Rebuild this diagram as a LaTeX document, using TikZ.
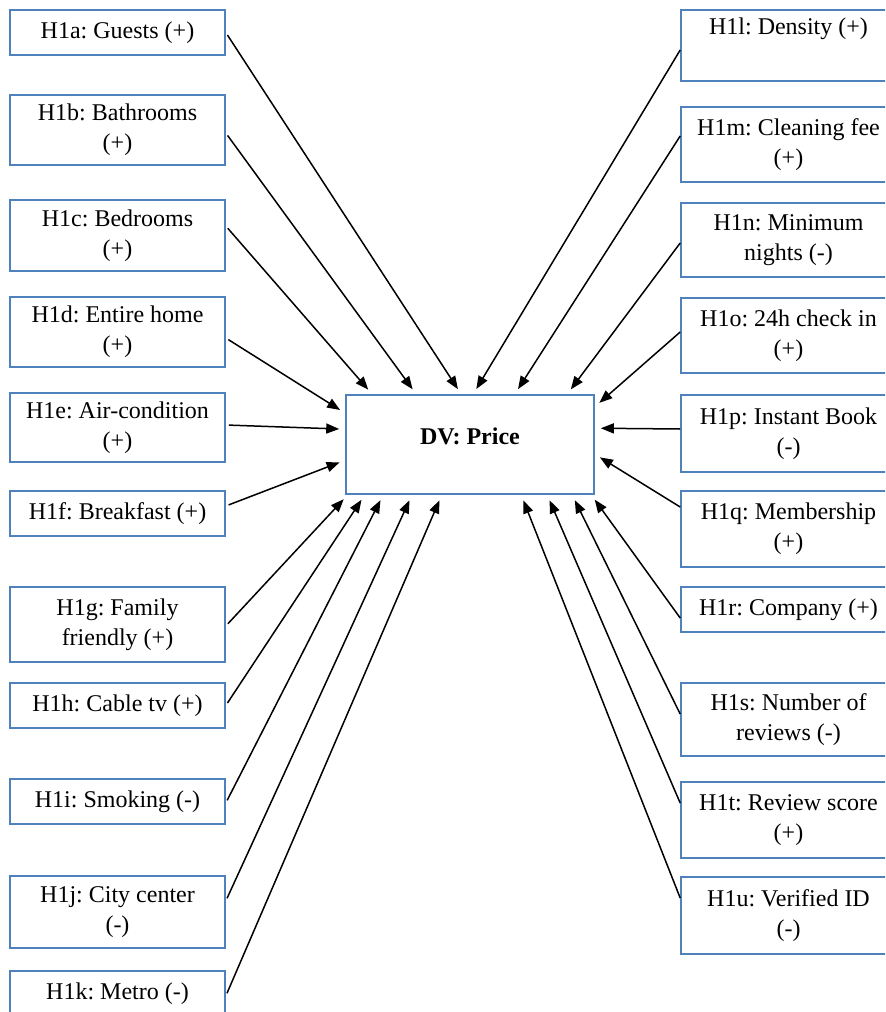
\documentclass[tikz,border=0pt]{standalone}
\usepackage{fontspec}
\setmainfont{Liberation Serif}
\usepackage{xcolor}
\usepackage{tikz}
\usetikzlibrary{arrows.meta}
\definecolor{boxc}{HTML}{4F81BD}
\frenchspacing
\tikzset{
  ar/.style={-{Triangle[length=6.5pt,width=5pt]},line width=0.75pt,black,shorten >=3pt},
  hyp/.style={draw=boxc,line width=0.8pt,minimum width=107.5pt,align=center,inner sep=2pt,font=\fontsize{12}{15}\selectfont},
  dvbox/.style={draw=boxc,line width=0.8pt,minimum width=124pt,minimum height=49.5pt,text depth=8.5pt,font=\fontsize{12}{15}\selectfont\bfseries}
}
\begin{document}
\begin{tikzpicture}[x=0.5pt,y=-0.5pt]
\clip (0,0) rectangle (885,1012);
\fill[white] (0,0) rectangle (885,1012);
\node[dvbox] (dv) at (470,444.5) {DV: Price};
\foreach \n/\y/\h/\t in {a/32.5/45/{H1a: Guests (+)}, b/130/70/{H1b: Bathrooms\\(+)}, c/235.5/71/{H1c: Bedrooms\\(+)}, d/332/70/{H1d: Entire home\\(+)}, e/427.5/69/{H1e: Air-condition\\(+)}, f/513.5/45/{H1f: Breakfast (+)}, g/624.5/75/{H1g: Family\\friendly (+)}, h/705.5/45/{H1h: Cable tv (+)}, i/801.5/45/{H1i: Smoking (-)}, j/912/72/{H1j: City center\\(-)}, k/993.5/45/{H1k: Metro (-)}}{\node[hyp,minimum height=\h*0.5pt] (\n) at (117.5,\y) {\t};}
\foreach \n/\y/\h/\t in {l/45.5/71/{H1l: Density (+)\\\strut}, m/144.5/75/{H1m: Cleaning fee\\(+)}, n/240/74/{H1n: Minimum\\nights (-)}, o/335.5/75/{H1o: 24h check in\\(+)}, p/433.5/77/{H1p: Instant Book\\(-)}, q/529/76/{H1q: Membership\\(+)}, r/609.5/45/{H1r: Company (+)}, s/719.5/73/{H1s: Number of\\reviews (-)}, t/820/76/{H1t: Review score\\(+)}, u/915.5/77/{H1u: Verified ID\\(-)}}{\node[hyp,minimum height=\h*0.5pt] (\n) at (788.5,\y) {\t};}
\foreach \s/\sy/\an/\tx/\ty in {a/0/north west/58/0, b/-1.5/north west/35.5/0, c/4.75/north west/13.5/0, d/-3/north west/0/-9.5, e/1.25/north west/0/-17.5, f/3.75/north west/0/-33, g/-0.75/south west/1.3/0, h/0/south west/9.8/0, i/-0.75/south west/19/0, j/5.5/south west/33.4/0, k/-1.25/south west/48.3/0}{\draw[ar,shorten <=1.5pt] ([yshift=\sy pt]\s.east) -- ([xshift=\tx pt,yshift=\ty pt]dv.\an);}
\foreach \s/\sy/\an/\tx/\ty in {l/-2.25/north west/64/0, m/4.25/north west/84.8/0, n/-1.5/north west/111/0, o/1.75/north east/0/-6.3, p/2.25/north east/0/-17, q/11/north east/0/-30, r/-4.25/south west/123/0, s/2.75/south west/113.5/0, t/8.5/south west/101/0, u/8.75/south west/88/0}{\draw[ar] ([yshift=\sy pt]\s.west) -- ([xshift=\tx pt,yshift=\ty pt]dv.\an);}
\end{tikzpicture}
\end{document}
